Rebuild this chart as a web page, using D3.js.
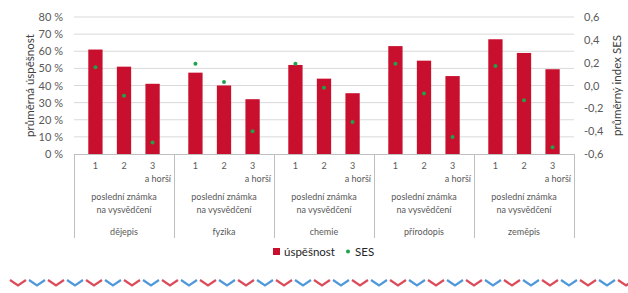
<!DOCTYPE html>
<html lang="cs">
<head>
<meta charset="utf-8">
<title>Úspěšnost a SES podle poslední známky</title>
<script src="https://cdn.jsdelivr.net/npm/d3@7"></script>
<style>
  body { margin: 0; background: #fff; }
  svg text { font-family: Lato, "Open Sans", sans-serif; }
</style>
</head>
<body>
<div id="chart"></div>
<script>
// DATA
var subjects = ["dějepis", "fyzika", "chemie", "přírodopis", "zeměpis"];
var grades = ["1", "2", "3"];
// průměrná úspěšnost (%) per subject x grade
var uspesnost = [61, 51, 41, 47.5, 40, 32, 52, 44, 35.5, 63, 54.5, 45.5, 67, 59, 49.5];
// průměrný index SES
var ses = [0.16, -0.09, -0.50, 0.19, 0.03, -0.40, 0.19, -0.02, -0.32, 0.19, -0.07, -0.45, 0.17, -0.13, -0.54];
var leftTicks = [0, 10, 20, 30, 40, 50, 60, 70, 80];
var rightTicks = [-0.6, -0.4, -0.2, 0, 0.2, 0.4, 0.6];

var rows = [];
subjects.forEach(function(s, i) {
  grades.forEach(function(g, j) {
    rows.push({ subject: s, grade: g, u: uspesnost[i * 3 + j], ses: ses[i * 3 + j] });
  });
});

// DIMENSIONS
var w = 628, h = 293;
var plot = { left: 74, right: 574, top: 17, bottom: 154 };
var barColor = "#c8102e", sesColor = "#1ea34a", txt = "#595959";

var svg = d3.select("#chart").append("svg")
  .attr("width", w)
  .attr("height", h);

// SCALES
var x0 = d3.scaleBand().domain(subjects).range([plot.left, plot.right]).padding(0);
var x1 = d3.scaleBand().domain(grades).range([0, x0.bandwidth()]).padding(0.5);
var yL = d3.scaleLinear().domain([0, 80]).range([plot.bottom, plot.top]);
var yR = d3.scaleLinear().domain([-0.6, 0.6]).range([plot.bottom, plot.top]);

var cz = d3.formatLocale({ decimal: ",", thousands: " ", grouping: [3], currency: ["", " Kč"], minus: "-" });
var fmtR = cz.format(".1f");

// GRIDLINES
svg.append("g").selectAll("line")
  .data(leftTicks.slice(1))
  .enter().append("line")
  .attr("x1", plot.left).attr("x2", plot.right)
  .attr("y1", function(d) { return yL(d); }).attr("y2", function(d) { return yL(d); })
  .attr("stroke", "#d9d9d9").attr("stroke-width", 1);

// LEFT AXIS labels
svg.append("g").selectAll("text")
  .data(leftTicks)
  .enter().append("text")
  .attr("x", 63).attr("y", function(d) { return yL(d) + 4; })
  .attr("text-anchor", "end")
  .attr("font-size", 11).attr("fill", txt)
  .text(function(d) { return d + " %"; });

// RIGHT AXIS labels
svg.append("g").selectAll("text")
  .data(rightTicks)
  .enter().append("text")
  .attr("x", 584).attr("y", function(d) { return yR(d) + 4; })
  .attr("text-anchor", "start")
  .attr("font-size", 11).attr("fill", txt)
  .text(function(d) { return fmtR(d); });

// axis titles
svg.append("text")
  .attr("transform", "translate(34," + ((plot.top + plot.bottom) / 2) + ") rotate(-90)")
  .attr("text-anchor", "middle").attr("font-size", 11.5).attr("fill", "#404040")
  .text("průměrná úspěšnost");
svg.append("text")
  .attr("transform", "translate(621," + ((plot.top + plot.bottom) / 2) + ") rotate(-90)")
  .attr("text-anchor", "middle").attr("font-size", 11.5).attr("fill", "#404040")
  .text("průměrný index SES");

// BARS
svg.append("g").selectAll("rect")
  .data(rows)
  .enter().append("rect")
  .attr("x", function(d) { return x0(d.subject) + x1(d.grade); })
  .attr("y", function(d) { return yL(d.u); })
  .attr("width", x1.bandwidth())
  .attr("height", function(d) { return yL(0) - yL(d.u); })
  .attr("fill", barColor);

// SES dots
svg.append("g").selectAll("circle")
  .data(rows)
  .enter().append("circle")
  .attr("cx", function(d) { return x0(d.subject) + x1(d.grade) + x1.bandwidth() / 2; })
  .attr("cy", function(d) { return yR(d.ses); })
  .attr("r", 2)
  .attr("fill", sesColor);

// CATEGORY AXIS
svg.append("line")
  .attr("x1", plot.left).attr("x2", plot.right)
  .attr("y1", plot.bottom + 0.5).attr("y2", plot.bottom + 0.5)
  .attr("stroke", "#bfbfbf");

var bounds = subjects.map(function(s) { return x0(s); }).concat([plot.right]);
svg.append("g").selectAll("line")
  .data(bounds)
  .enter().append("line")
  .attr("x1", function(d) { return Math.round(d) + 0.5; })
  .attr("x2", function(d) { return Math.round(d) + 0.5; })
  .attr("y1", plot.bottom).attr("y2", 238)
  .attr("stroke", "#bfbfbf");

var lab = svg.append("g").attr("font-size", 9).attr("fill", txt);
lab.selectAll("text.grade")
  .data(rows)
  .enter().append("text")
  .attr("class", "grade")
  .attr("x", function(d) { return x0(d.subject) + x1(d.grade) + x1.bandwidth() / 2; })
  .attr("y", 169)
  .attr("text-anchor", "middle")
  .text(function(d) { return d.grade; });

var grp = lab.selectAll("g.subj")
  .data(subjects)
  .enter().append("g")
  .attr("class", "subj");
grp.append("text")
  .attr("x", function(d) { return x0(d) + x0.bandwidth() - 3; })
  .attr("y", 182)
  .attr("text-anchor", "end")
  .text("a horší");
grp.append("text")
  .attr("x", function(d) { return x0(d) + x0.bandwidth() / 2; })
  .attr("y", 200)
  .attr("text-anchor", "middle")
  .text("poslední známka");
grp.append("text")
  .attr("x", function(d) { return x0(d) + x0.bandwidth() / 2; })
  .attr("y", 213)
  .attr("text-anchor", "middle")
  .text("na vysvědčení");
grp.append("text")
  .attr("x", function(d) { return x0(d) + x0.bandwidth() / 2; })
  .attr("y", 235)
  .attr("text-anchor", "middle")
  .text(function(d) { return d; });

// LEGEND
var leg = svg.append("g").attr("font-size", 11.5).attr("fill", "#262626");
leg.append("rect").attr("x", 273).attr("y", 248).attr("width", 7).attr("height", 7).attr("fill", barColor);
leg.append("text").attr("x", 284).attr("y", 256).text("úspěšnost");
leg.append("circle").attr("cx", 348).attr("cy", 251.5).attr("r", 2).attr("fill", sesColor);
leg.append("text").attr("x", 355).attr("y", 256).text("SES");

// DECORATIVE CHEVRONS
svg.append("g").selectAll("path")
  .data(d3.range(0, 33))
  .enter().append("path")
  .attr("d", function(i) {
    var x = 10 + i * 19;
    return "M" + x + ",280 L" + (x + 8) + ",285.5 L" + (x + 16) + ",280";
  })
  .attr("fill", "none")
  .attr("stroke-width", 2.2)
  .attr("stroke", function(i) { return i % 2 ? "#4f98dc" : "#dc4b5a"; });
</script>
</body>
</html>
